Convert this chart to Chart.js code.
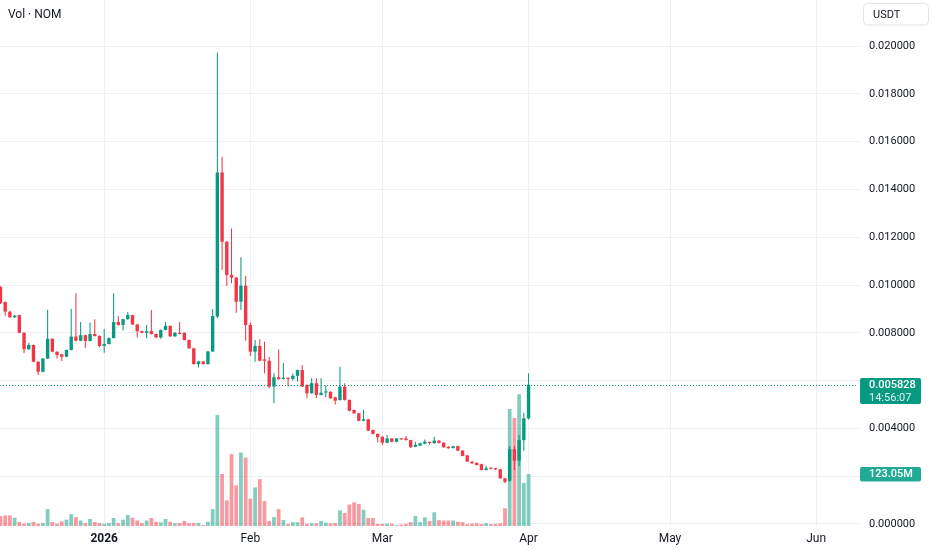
<!DOCTYPE html>
<html><head><meta charset="utf-8">
<script src="https://cdn.jsdelivr.net/npm/chart.js@4.4.1/dist/chart.umd.min.js"></script>
<style>html,body{margin:0;padding:0;background:#fff;overflow:hidden}#wrap{width:932px;height:550px;position:relative}canvas{display:block}</style>
</head><body><div id="wrap"><canvas id="c" width="932" height="550"></canvas></div>
<script>
// first candle: 2025-12-10 = 22 days before 2026-01-01
const firstDayOffset = -22;
const opens = [
.00992,.00929,.00888,.00865,.00874,.00800,.00731,.00749,.00679,.00637,
.00692,.00775,.00721,.00710,.00700,.00728,.00784,.00767,.00790,.00766,
.00795,.00787,.00745,.00753,.00778,.00845,.00833,.00857,.00874,.00835,
.00807,.00800,.00807,.00795,.00781,.00812,.00829,.00785,.00800,.00800,
.00770,.00735,.00669,.00680,.00669,.00722,.00868,.01471,.01181,.01042,
.01031,.00930,.00997,.00833,.00721,.00745,.00689,.00683,.00575,.00614,
.00607,.00611,.00607,.00620,.00644,.00582,.00547,.00589,.00540,.00550,
.00553,.00530,.00519,.00575,.00519,.00477,.00463,.00432,.00438,.00393,
.00377,.00365,.00340,.00358,.00344,.00358,.00358,.00351,.00323,.00328,
.00336,.00342,.00338,.00349,.00340,.00323,.00318,.00326,.00307,.00287,
.00261,.00256,.00250,.00226,.00233,.00232,.00229,.00191,.00181,.00313,
.00265,.00351,.00442];
const closes = [
.00925,.00889,.00865,.00872,.00800,.00731,.00749,.00679,.00637,.00692,
.00775,.00721,.00707,.00700,.00728,.00784,.00767,.00790,.00766,.00795,
.00787,.00745,.00753,.00778,.00845,.00833,.00857,.00874,.00835,.00807,
.00800,.00807,.00795,.00781,.00812,.00829,.00785,.00800,.00795,.00770,
.00735,.00669,.00680,.00669,.00722,.00870,.01471,.01181,.01042,.01031,
.00930,.00997,.00833,.00721,.00745,.00683,.00683,.00575,.00614,.00606,
.00611,.00607,.00620,.00644,.00575,.00547,.00589,.00540,.00549,.00555,
.00526,.00516,.00575,.00519,.00474,.00463,.00432,.00438,.00391,.00377,
.00363,.00340,.00358,.00344,.00358,.00354,.00351,.00321,.00331,.00338,
.00344,.00339,.00349,.00339,.00321,.00317,.00325,.00307,.00285,.00261,
.00254,.00247,.00226,.00233,.00231,.00229,.00191,.00177,.00313,.00265,
.00351,.00442,.005828];
const highs = [
.00995,.00931,.00892,.00875,.00876,.00802,.00757,.00751,.00681,.00695,
.00895,.00777,.00723,.00712,.00730,.00900,.00965,.00845,.00792,.00843,
.00857,.00789,.00816,.00780,.00965,.00869,.00859,.00887,.00876,.00837,
.00809,.00833,.00895,.00797,.00814,.00845,.00831,.00803,.00845,.00802,
.00772,.00737,.00682,.00682,.00724,.00900,.01972,.01537,.01183,.01237,
.01033,.01116,.01038,.00843,.00770,.00773,.00763,.00700,.00631,.00731,
.00674,.00613,.00630,.00646,.00665,.00584,.00610,.00610,.00610,.00580,
.00555,.00532,.00658,.00589,.00521,.00479,.00465,.00477,.00440,.00395,
.00379,.00367,.00372,.00360,.00360,.00360,.00368,.00353,.00344,.00340,
.00354,.00344,.00365,.00351,.00342,.00325,.00327,.00328,.00309,.00289,
.00263,.00258,.00252,.00244,.00235,.00234,.00231,.00193,.00326,.00326,
.00372,.00466,.00631];
const lows = [
.00920,.00870,.00862,.00862,.00798,.00715,.00729,.00677,.00623,.00635,
.00690,.00719,.00693,.00682,.00698,.00726,.00765,.00765,.00736,.00764,
.00785,.00739,.00717,.00751,.00776,.00831,.00810,.00855,.00833,.00780,
.00798,.00777,.00793,.00777,.00775,.00810,.00783,.00783,.00793,.00768,
.00733,.00667,.00655,.00667,.00667,.00720,.00861,.01063,.00996,.01007,
.00884,.00895,.00767,.00703,.00679,.00681,.00631,.00568,.00505,.00604,
.00605,.00575,.00600,.00595,.00573,.00526,.00545,.00527,.00538,.00530,
.00524,.00500,.00517,.00517,.00472,.00461,.00430,.00430,.00389,.00375,
.00342,.00331,.00338,.00342,.00342,.00352,.00349,.00319,.00321,.00326,
.00334,.00333,.00336,.00337,.00319,.00315,.00316,.00305,.00283,.00259,
.00252,.00245,.00224,.00224,.00229,.00227,.00189,.00170,.00177,.00226,
.00243,.00307,.00437];
// volume in millions
const volumes = [
23.7,25,25,19.7,9.5,5.5,7,9.5,5.5,7,
40,9.5,5.5,11,15,28,21,13,7,16.5,
9.5,7,5.5,7,19,7,15,26,19.7,13,
7,13,19,10,8.7,16.5,10,6.3,7,12,
7,7,7,2.4,10,40,262.7,123,60.7,170,
96,174,161.7,64.7,91.5,111,59,12,21,40,
14,5,9,9,20.5,5,6.5,6.5,12,8,
6.5,7,37,30.7,51,56,52,38.6,19,19,
5,5,5.5,5.5,2,3.5,5,9,23.7,9,
20.5,12,32.5,14,13,13,13,10,9,4.5,
6,6.5,4.5,6.5,4.5,5,6.5,42,277,256,
312,102,123.05];
const monthTickValues = [0,31,59,90,120,151];
const monthTickLabels = ['2026','Feb','Mar','Apr','May','Jun'];
const priceTicks = [0,0.002,0.004,0.006,0.008,0.010,0.012,0.014,0.016,0.018,0.020];
const hiddenPriceLabels = [0.002,0.006];
const countdown = '14:56:07';
const paneTitle = 'Vol · NOM';
const quoteCurrency = 'USDT';

const UP='#089981', DOWN='#f23645', UPV='rgba(8,153,129,0.5)', DOWNV='rgba(242,54,69,0.5)';
const GRID='#f0f0f2';
const FONT='Roboto';
const days = opens.map((_, i) => firstDayOffset + i);
const isUp = closes.map((c, i) => c >= opens[i]);
const last = closes.length - 1;

function rr(ctx, x, y, w, h, r){
  ctx.beginPath();
  if (ctx.roundRect) ctx.roundRect(x, y, w, h, r); else ctx.rect(x, y, w, h);
}

const overlay = {
  id: 'overlay',
  afterDatasetsDraw(chart){
    const {ctx, chartArea, scales} = chart;
    const py = Math.round(scales.y.getPixelForValue(closes[last])) + 0.5;
    ctx.save();
    ctx.beginPath();
    ctx.setLineDash([1,2]);
    ctx.strokeStyle = UP; ctx.lineWidth = 1;
    ctx.moveTo(chartArea.left, py); ctx.lineTo(chartArea.right, py);
    ctx.stroke();
    ctx.restore();
  },
  afterDraw(chart){
    const {ctx, scales, chartArea} = chart;
    const py = Math.round(scales.y.getPixelForValue(closes[last]));
    const vy = Math.round(scales.yv.getPixelForValue(volumes[last]));
    ctx.save();
    // price pane ends above the time axis: lower part of the last price label is cut off
    ctx.fillStyle = '#ffffff';
    ctx.fillRect(chartArea.right + 1, chartArea.bottom + 1, 932 - chartArea.right, 30);
    // price badge
    ctx.fillStyle = UP;
    rr(ctx, 860, py - 7, 61, 26, 2); ctx.fill();
    ctx.fillStyle = '#ffffff';
    ctx.textAlign = 'left'; ctx.textBaseline = 'middle';
    ctx.font = '500 11px ' + FONT;
    ctx.fillText(closes[last].toFixed(6), 869, py + 0.5);
    ctx.fillStyle = 'rgba(255,255,255,0.88)';
    ctx.font = '11px ' + FONT;
    ctx.fillText(countdown, 869, py + 13.5);
    // volume badge
    ctx.fillStyle = '#22ab94';
    rr(ctx, 860, vy - 7, 61, 14.5, 2); ctx.fill();
    ctx.fillStyle = '#ffffff';
    ctx.font = '500 11px ' + FONT;
    ctx.fillText(volumes[last].toFixed(2) + 'M', 869, vy + 0.5);
    // pane title
    ctx.fillStyle = '#131722';
    ctx.font = '12px ' + FONT;
    ctx.fillText(paneTitle, 8, 15);
    // currency button
    ctx.strokeStyle = '#e0e3eb'; ctx.lineWidth = 1;
    rr(ctx, 863.5, 3.5, 65, 21.5, 4); ctx.stroke();
    ctx.fillStyle = '#131722';
    ctx.font = '11px ' + FONT;
    ctx.fillText(quoteCurrency, 873, 15);
    ctx.restore();
  }
};

new Chart(document.getElementById('c'), {
  type: 'bar',
  data: {
    datasets: [
      { label: 'Volume', yAxisID: 'yv', order: 3, grouped: false,
        data: days.map((d, i) => ({x: d, y: volumes[i]})),
        backgroundColor: isUp.map(u => u ? UPV : DOWNV),
        categoryPercentage: 1, barPercentage: 0.8, borderWidth: 0 },
      { label: 'Wick', yAxisID: 'y', order: 2, grouped: false,
        data: days.map((d, i) => ({x: d, y: [lows[i], highs[i]]})),
        backgroundColor: isUp.map(u => u ? UP : DOWN),
        categoryPercentage: 1, barPercentage: 0.22, borderWidth: 0 },
      { label: 'Body', yAxisID: 'y', order: 1, grouped: false,
        data: days.map((d, i) => ({x: d, y: [opens[i], closes[i]]})),
        backgroundColor: isUp.map(u => u ? UP : DOWN),
        categoryPercentage: 1, barPercentage: 0.72, minBarLength: 1.2, borderWidth: 0 }
    ]
  },
  options: {
    responsive: false, animation: false, devicePixelRatio: 1,
    layout: { padding: 0 },
    plugins: { legend: { display: false }, tooltip: { enabled: false } },
    scales: {
      x: {
        type: 'linear', min: -22.1, max: 159.66, offset: false, bounds: 'data',
        afterBuildTicks: s => { s.ticks = monthTickValues.map(v => ({value: v})); },
        afterFit: s => { s.height = 24; s.paddingLeft = 0; s.paddingRight = 0; },
        grid: { color: GRID, drawTicks: false, offset: false },
        border: { display: false },
        ticks: {
          padding: 6, color: '#131722', maxRotation: 0, autoSkip: false,
          font: ctx => ({ family: FONT, size: 12, weight: (ctx.tick && ctx.tick.value === 0) ? 'bold' : 'normal' }),
          callback: v => { const k = monthTickValues.indexOf(v); return k >= 0 ? monthTickLabels[k] : ''; }
        }
      },
      y: {
        type: 'linear', position: 'right', min: -0.0000837, max: 0.021925, bounds: 'data',
        afterBuildTicks: s => { s.ticks = priceTicks.map(v => ({value: v})); },
        afterFit: s => { s.width = 75; s.paddingTop = 0; s.paddingBottom = 0; },
        grid: { color: GRID, tickLength: 3 },
        border: { display: false },
        ticks: {
          padding: 9, color: '#131722', font: { family: FONT, size: 11 },
          callback: v => hiddenPriceLabels.some(h => Math.abs(h - v) < 1e-9) ? '' : Number(v).toFixed(6)
        }
      },
      yv: { type: 'linear', display: false, min: 0, max: 1244.7 }
    }
  },
  plugins: [overlay]
});
</script>
</body></html>
